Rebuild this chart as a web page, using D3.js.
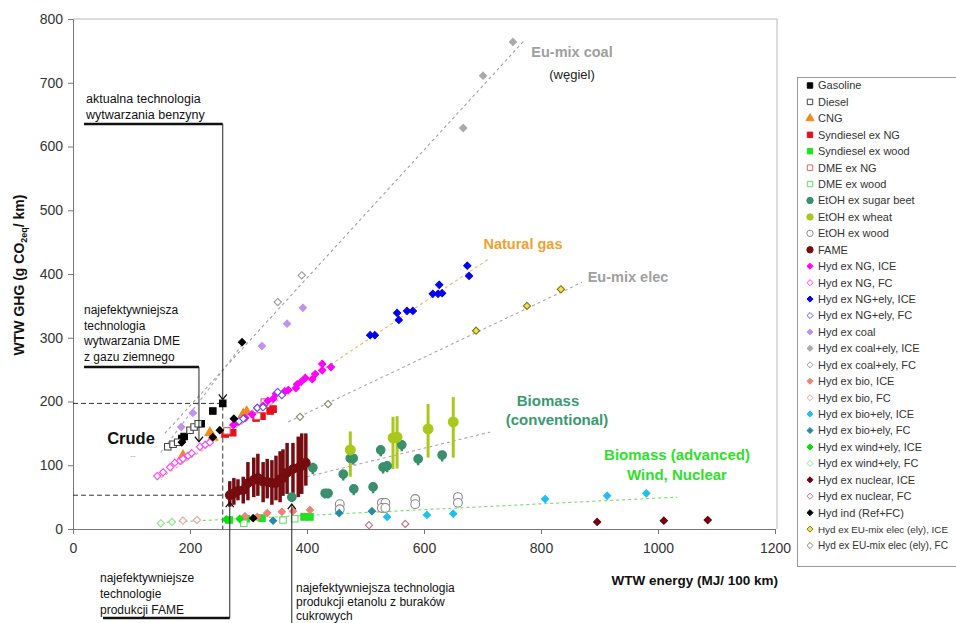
<!DOCTYPE html>
<html lang="en">
<head>
<meta charset="UTF-8">
<title>WTW GHG vs WTW energy</title>
<script src="https://d3js.org/d3.v7.min.js"></script>
<style>
body { margin: 0; background: #fff; }
svg { font-family: "Liberation Sans", Arial, sans-serif; }
</style>
</head>
<body>
<div id="chart"></div>
<script>

// values: [WTW energy MJ/100km, WTW GHG g/km]
var gasoline = [[186,142],[190,145],[219,165],[239,185],[256,197]];
var diesel = [[162,129],[171,133],[179,136],[200,155],[207,160],[214,165]];
var cng = [[188,115],[234,151],[239,144],[291,180],[297,184]];
var syndieselNG = [[260,149],[273,151],[313,174],[323,177],[337,185],[342,188]];
var syndieselWood = [[267,14],[296,16],[323,17],[395,19],[405,19]];
var dmeNG = [[263,154],[315,177],[327,199]];
var dmeWood = [[292,9],[359,14],[379,16]];
// [x, y, low, high]
var etohBeet = [[410,96,86,104],[374,50,42,56],[431,56,48,62],[436,56,48,62],[462,86,76,92],
  [474,111,101,117],[479,111,101,117],[480,63,53,69],[513,66,56,72],[526,124,114,130],
  [530,97,87,103],[537,99,89,105],[562,132,122,138],[590,110,100,116],[631,116,106,122]];
var etohWheat = [[474,124,82,153],[547,143,94,176],[554,144,95,177],[607,157,112,196],[650,168,112,207]];
var etohWood = [[456,39],[456,31],[528,41],[534,41],[528,33],[534,33],[585,47],[585,39],[658,50],[658,41]];
var fame = [[268,53,35,75],[275,56,38,80],[282,60,45,78],[291,61,40,82],[299,72,45,105],[309,77,50,112],
  [316,80,52,118],[325,74,42,105],[332,74,48,110],[340,72,38,108],[347,72,45,115],[354,78,42,122],
  [359,80,52,125],[366,88,55,135],[376,94,45,135],[385,96,50,145],[391,99,55,150],[398,104,68,150]];
var hydNGICE = [[274,163],[282,168],[294,174],[306,180],[315,190],[325,193],[333,201],[342,204],[347,212],
  [362,216],[368,218],[381,221],[383,227],[390,231],[397,237],[409,235],[414,243],[426,249],[426,259],[441,254]];
var hydNGFC = [[144,83],[154,89],[166,97],[174,104],[183,107],[188,110],[197,115],[203,119],[217,129],[226,132],[234,136]];
var hydNGelyICE = [[508,304],[516,304],[554,339],[557,328],[571,342],[581,342],[615,369],[624,369],[631,370],[626,383],[674,413],[677,397]];
var hydNGelyFC = [[284,169],[291,173],[315,190],[325,191],[350,215],[357,210]];
var hydCoal = [[185,160],[205,182],[323,287],[366,322],[393,347]];
var hydCoalElyICE = [[667,629],[701,711],[752,764]];
var hydCoalElyFC = [[350,356],[391,398]];
var hydBioICE = [[294,20],[315,19],[332,25],[357,27],[376,28],[405,30]];
var hydBioFC = [[188,13],[212,14]];
var hydBioElyICE = [[537,19],[605,22],[650,24],[807,47],[913,52],[980,56]];
var hydBioElyFC = [[342,13],[455,25],[511,28]];
var hydWindICE = [[262,15],[285,16]];
var hydWindFC = [[150,9],[169,11]];
var hydNuclearICE = [[896,11],[1010,13],[1085,14]];
var hydNuclearFC = [[506,6],[568,8]];
var hydInd = [[289,293],[275,173],[251,155],[239,144],[186,136],[308,17]];
var hydEUICE = [[689,311],[776,350],[834,376]];
var hydEUFC = [[388,176],[436,196]];

// dashed trend lines, [start, end] in data units
var coalLine = [[157,150],[773,768]];
var crudeLine = [[150,120],[290,290]];
var ngLine = [[150,80],[713,425]];
var elecLine = [[368,168],[870,387]];
var bioLine = [[400,82],[713,152]];
var advLine = [[150,10],[1033,50]];

var xTicks = [0,200,400,600,800,1000,1200];
var yTicks = [0,100,200,300,400,500,600,700,800];

var series = [
  {name: "Gasoline", data: gasoline, shape: "square", fill: "#000", stroke: "#000"},
  {name: "Diesel", data: diesel, shape: "square", fill: "#fff", stroke: "#444"},
  {name: "CNG", data: cng, shape: "triangle", fill: "#f08a1c", stroke: "#f08a1c"},
  {name: "Syndiesel ex NG", data: syndieselNG, shape: "square", fill: "#e8101c", stroke: "#e8101c"},
  {name: "Syndiesel ex wood", data: syndieselWood, shape: "square", fill: "#22e022", stroke: "#22e022"},
  {name: "DME ex NG", data: dmeNG, shape: "square", fill: "#fff", stroke: "#d86a60"},
  {name: "DME ex wood", data: dmeWood, shape: "square", fill: "#fff", stroke: "#66dd66"},
  {name: "EtOH ex sugar beet", data: etohBeet, shape: "circle", fill: "#3a8f6c", stroke: "#3a8f6c", bar: 2.5},
  {name: "EtOH ex wheat", data: etohWheat, shape: "circle", fill: "#a9c71c", stroke: "#a9c71c", bar: 3},
  {name: "EtOH ex wood", data: etohWood, shape: "circle", fill: "#fff", stroke: "#8a8a8a"},
  {name: "FAME", data: fame, shape: "circle", fill: "#760c10", stroke: "#760c10", bar: 3.5},
  {name: "Hyd ex NG, ICE", data: hydNGICE, shape: "diamond", fill: "#ff00ff", stroke: "#ff00ff"},
  {name: "Hyd ex NG, FC", data: hydNGFC, shape: "diamond", fill: "#fff", stroke: "#ff40ff"},
  {name: "Hyd ex NG+ely, ICE", data: hydNGelyICE, shape: "diamond", fill: "#0000ee", stroke: "#0000ee"},
  {name: "Hyd ex NG+ely, FC", data: hydNGelyFC, shape: "diamond", fill: "#fff", stroke: "#6a50d8"},
  {name: "Hyd ex coal", data: hydCoal, shape: "diamond", fill: "#c092f2", stroke: "#c092f2"},
  {name: "Hyd ex coal+ely, ICE", data: hydCoalElyICE, shape: "diamond", fill: "#aaa", stroke: "#aaa"},
  {name: "Hyd ex coal+ely, FC", data: hydCoalElyFC, shape: "diamond", fill: "#fff", stroke: "#999"},
  {name: "Hyd ex bio, ICE", data: hydBioICE, shape: "diamond", fill: "#f08078", stroke: "#f08078"},
  {name: "Hyd ex bio, FC", data: hydBioFC, shape: "diamond", fill: "#fff", stroke: "#eba09a"},
  {name: "Hyd ex bio+ely, ICE", data: hydBioElyICE, shape: "diamond", fill: "#1ec0f0", stroke: "#1ec0f0"},
  {name: "Hyd ex bio+ely, FC", data: hydBioElyFC, shape: "diamond", fill: "#2a8aa2", stroke: "#2a8aa2"},
  {name: "Hyd ex wind+ely, ICE", data: hydWindICE, shape: "diamond", fill: "#00e600", stroke: "#00e600"},
  {name: "Hyd ex wind+ely, FC", data: hydWindFC, shape: "diamond", fill: "#fff", stroke: "#88e688"},
  {name: "Hyd ex nuclear, ICE", data: hydNuclearICE, shape: "diamond", fill: "#6e0012", stroke: "#6e0012"},
  {name: "Hyd ex nuclear, FC", data: hydNuclearFC, shape: "diamond", fill: "#fff", stroke: "#c07080"},
  {name: "Hyd ind (Ref+FC)", data: hydInd, shape: "diamond", fill: "#000", stroke: "#000"},
  {name: "Hyd ex EU-mix elec (ely), ICE", data: hydEUICE, shape: "diamond", fill: "#f0e060", stroke: "#7a7a10"},
  {name: "Hyd ex EU-mix elec (ely), FC", data: hydEUFC, shape: "diamond", fill: "#fff", stroke: "#858560"}
];

var width = 956, height = 623;
var x = d3.scaleLinear().domain([0, 1200]).range([73, 775]);
var y = d3.scaleLinear().domain([0, 800]).range([529, 19]);

var svg = d3.select("#chart").append("svg")
  .attr("width", width)
  .attr("height", height);

var diamond = {
  draw: function(ctx, size) {
    var r = Math.sqrt(size / 2);
    ctx.moveTo(0, -r); ctx.lineTo(r, 0); ctx.lineTo(0, r); ctx.lineTo(-r, 0); ctx.closePath();
  }
};
function symbolFor(shape, scale) {
  var k = scale || 1;
  if (shape == "square") return d3.symbol(d3.symbolSquare, 42 * k)();
  if (shape == "triangle") return d3.symbol(d3.symbolTriangle, 40 * k)();
  if (shape == "circle") return d3.symbol(d3.symbolCircle, 58 * k)();
  return d3.symbol(diamond, 26 * k)();
}

// plot frame (top and right)
svg.append("path")
  .attr("d", "M" + x(0) + "," + y(800) + "H" + (x(1200) + 2) + "V" + y(0))
  .attr("fill", "none").attr("stroke", "#b8b8b8");

// axes
var xAxis = svg.append("g")
  .attr("transform", "translate(0," + y(0) + ")")
  .call(d3.axisBottom(x).tickValues(xTicks).tickFormat(d3.format("d")).tickSize(5).tickPadding(9));
var yAxis = svg.append("g")
  .attr("transform", "translate(" + x(0) + ",0)")
  .call(d3.axisLeft(y).tickValues(yTicks).tickFormat(d3.format("d")).tickSize(5).tickPadding(5));
[xAxis, yAxis].forEach(function(g) {
  g.select(".domain").attr("stroke", "#777");
  g.selectAll(".tick line").attr("stroke", "#777");
  g.selectAll(".tick text").attr("font-size", 14).attr("fill", "#333")
    .attr("font-family", "Liberation Sans, Arial, sans-serif");
});

svg.append("text")
  .attr("x", 778).attr("y", 585).attr("text-anchor", "end")
  .attr("font-size", 13.5).attr("font-weight", "bold").attr("fill", "#111")
  .text("WTW energy (MJ/ 100 km)");

var yt = svg.append("text")
  .attr("transform", "translate(24,275) rotate(-90)")
  .attr("text-anchor", "middle")
  .attr("font-size", 14).attr("font-weight", "bold").attr("fill", "#111");
yt.append("tspan").text("WTW GHG (g CO");
yt.append("tspan").attr("font-size", 9).attr("dy", 3).text("2eq");
yt.append("tspan").attr("dy", -3).text("/ km)");

// trend lines
var trends = [
  {d: coalLine, c: "#a0a0a0"}, {d: crudeLine, c: "#a8a8a8"}, {d: ngLine, c: "#f4b060"},
  {d: elecLine, c: "#a8a8a8"}, {d: bioLine, c: "#a8a8a8"}, {d: advLine, c: "#70e060"}
];
var line = d3.line().x(function(d) { return x(d[0]); }).y(function(d) { return y(d[1]); });
svg.append("g").selectAll("path").data(trends).join("path")
  .attr("d", function(t) { return line(t.d); })
  .attr("fill", "none").attr("stroke", function(t) { return t.c; })
  .attr("stroke-width", 1.1).attr("stroke-dasharray", "3,3");

// reference dashed guides
var guides = svg.append("g").attr("stroke", "#333").attr("stroke-width", 1).attr("stroke-dasharray", "5,3").attr("fill", "none");
guides.append("path").attr("d", "M" + x(0) + "," + y(gasoline[4][1]) + "H" + x(gasoline[4][0]) + "V" + y(0));
guides.append("path").attr("d", "M" + x(0) + "," + y(fame[0][1]) + "H" + x(fame[0][0]));

// error bars
series.forEach(function(s) {
  if (!s.bar) return;
  svg.append("g").selectAll("line").data(s.data).join("line")
    .attr("x1", function(d) { return x(d[0]); }).attr("x2", function(d) { return x(d[0]); })
    .attr("y1", function(d) { return y(d[2]); }).attr("y2", function(d) { return y(d[3]); })
    .attr("stroke", s.stroke).attr("stroke-width", s.bar);
});

// markers
series.forEach(function(s) {
  var k = s.name == "EtOH ex wheat" ? 1.3 : (s.name == "EtOH ex wood" ? 1.05 : 1);
  svg.append("g").selectAll("path").data(s.data).join("path")
    .attr("transform", function(d) { return "translate(" + x(d[0]) + "," + y(d[1]) + ")"; })
    .attr("d", symbolFor(s.shape, k))
    .attr("fill", s.fill).attr("stroke", s.stroke).attr("stroke-width", 1.1);
});

// series labels
function label(txt, px, py, size, color, weight) {
  svg.append("text").attr("x", px).attr("y", py).attr("text-anchor", "middle")
    .attr("font-size", size).attr("font-weight", weight || "bold").attr("fill", color).text(txt);
}
label("Eu-mix coal", 572, 57, 14.5, "#a0a0a0");
label("(węgiel)", 572, 79, 13, "#222", "normal");
label("Natural gas", 523, 249, 14.5, "#f5a02c");
label("Eu-mix elec", 628, 282, 14.5, "#a0a0a0");
label("Biomass", 548, 406, 15, "#3a9a70");
label("(conventional)", 557, 425, 15, "#3a9a70");
label("Biomass (advanced)", 677, 460, 15, "#30e02a");
label("Wind, Nuclear", 677, 480, 15, "#30e02a");
label("Crude", 131, 444, 16.5, "#111");
label("--", 133, 458, 8, "#999", "normal");

// annotations with arrows
svg.append("defs").append("marker")
  .attr("id", "arr").attr("viewBox", "-6 -6 12 12")
  .attr("markerWidth", 12).attr("markerHeight", 12).attr("orient", "auto")
  .attr("markerUnits", "userSpaceOnUse")
  .append("path").attr("d", "M-5,-4L0,0L-5,4").attr("fill", "none").attr("stroke", "#111").attr("stroke-width", 1.3);

function note(lines, tx, ty, lh, size) {
  var t = svg.append("text").attr("font-size", size).attr("fill", "#111");
  lines.forEach(function(l, i) { t.append("tspan").attr("x", tx).attr("y", ty + i * lh).text(l); });
}
function pointer(x0, x1, yBar, yTip) {
  svg.append("line").attr("x1", x0).attr("x2", x1).attr("y1", yBar).attr("y2", yBar)
    .attr("stroke", "#111").attr("stroke-width", 2.6);
  svg.append("line").attr("x1", x1).attr("x2", x1).attr("y1", yBar).attr("y2", yTip)
    .attr("stroke", "#222").attr("stroke-width", 1).attr("marker-end", "url(#arr)");
}

note(["aktualna technologia", "wytwarzania benzyny"], 86, 103, 16, 12.5);
pointer(84, x(gasoline[4][0]), 124, y(gasoline[4][1]) - 4);

note(["najefektywniejsza", "technologia", "wytwarzania DME", "z gazu ziemnego"], 84, 314, 15.7, 12);
pointer(84, x(hydNGFC[8][0]) - 1, 367, y(hydNGFC[8][1]) - 5);

note(["najefektywniejsze", "technologie", "produkcji FAME"], 100, 582, 16, 12);
pointer(103, x(fame[0][0]), 618, y(fame[0][1]) + 7);

note(["najefektywniejsza technologia", "produkcji etanolu z buraków", "cukrowych"], 296, 592, 14.2, 12);
svg.append("line").attr("x1", x(etohBeet[1][0])).attr("x2", x(etohBeet[1][0]))
  .attr("y1", 625).attr("y2", y(etohBeet[1][1]) + 7)
  .attr("stroke", "#222").attr("stroke-width", 1).attr("marker-end", "url(#arr)");

// legend
var legend = svg.append("g");
legend.append("rect").attr("x", 797.5).attr("y", 77.5).attr("width", 170).attr("height", 489)
  .attr("fill", "#fff").attr("stroke", "#999");
var item = legend.selectAll("g.item").data(series).join("g")
  .attr("transform", function(d, i) { return "translate(810," + (85.5 + i * 16.43) + ")"; });
item.append("path")
  .attr("d", function(d) { return symbolFor(d.shape, d.shape == "circle" ? 0.55 : 0.7); })
  .attr("fill", function(d) { return d.fill; })
  .attr("stroke", function(d) { return d.stroke; }).attr("stroke-width", 1);
item.append("text").attr("x", 8).attr("dy", "0.35em")
  .attr("font-size", 11).attr("fill", "#333").text(function(d) { return d.name; })
  .each(function() {
    // the two longest entries run past the page edge; shrink them to fit
    var len = this.getComputedTextLength();
    if (len > 130) d3.select(this).attr("font-size", (11 * 130 / len).toFixed(2));
  });

</script>
</body>
</html>
